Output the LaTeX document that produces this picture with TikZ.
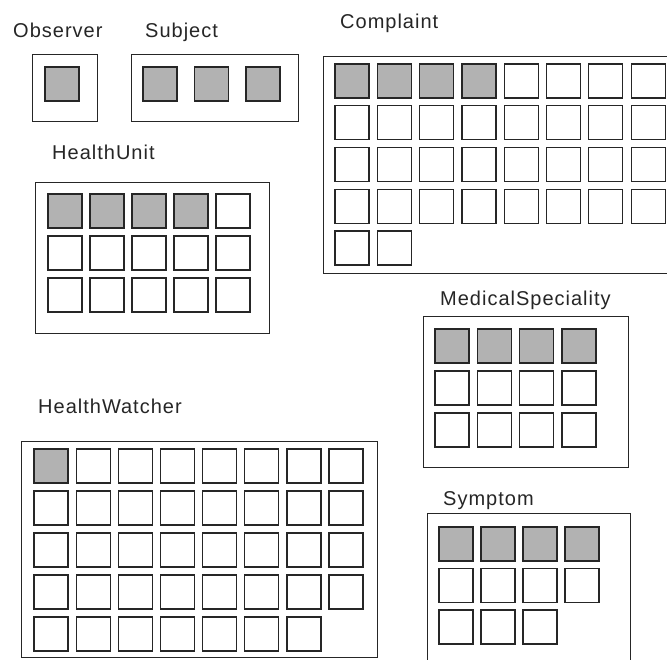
\documentclass[tikz,border=0pt]{standalone}
\usepackage{fontspec}
\setmainfont{Liberation Sans}[LetterSpace=5]
\begin{document}
\begin{tikzpicture}[x=1pt,y=-1pt,
  clsbox/.style={draw=black!85,line width=1.1pt,fill=none,inner sep=0pt,anchor=north west},
  cell/.style={draw=black!85,line width=1.2pt,fill=white,minimum size=34pt,inner sep=0pt},
  hot/.style={cell,fill=black!30},
  lbl/.style={anchor=base west,inner sep=0pt,text=black!85,font=\fontsize{20}{24}\selectfont}]
\newcommand\cellgrid[9]{%
  \foreach \r in {1,...,#7}{%
    \foreach \c in {1,...,#6}{%
      \pgfmathtruncatemacro\idx{(\r-1)*#6+\c}%
      \pgfmathtruncatemacro\ok{or(\r<#7,\c<=#8)}%
      \ifnum\ok=1
        \ifnum\idx>#9
          \node[cell] (#1-\r-\c) at ({#2+(\c-1)*#4+17},{#3+(\r-1)*#5+17}) {};
        \else
          \node[hot] (#1-\r-\c) at ({#2+(\c-1)*#4+17},{#3+(\r-1)*#5+17}) {};
        \fi
      \fi
    }%
  }%
}
\useasboundingbox (0,0) rectangle (667,659);
\clip (0,0) rectangle (667,659);
\fill[white] (0,0) rectangle (667,659);
% container boxes
\node[clsbox,minimum width=65pt,minimum height=67pt] (obs) at (32,54) {};
\node[clsbox,minimum width=167pt,minimum height=67pt] (subj) at (131,54) {};
\node[clsbox,minimum width=360pt,minimum height=217pt] (compl) at (323,56) {};
\node[clsbox,minimum width=234pt,minimum height=151pt] (hu) at (35,182) {};
\node[clsbox,minimum width=205pt,minimum height=151pt] (ms) at (423,316) {};
\node[clsbox,minimum width=356pt,minimum height=216pt] (hw) at (21,441) {};
\node[clsbox,minimum width=203pt,minimum height=170pt] (sym) at (427,513) {};
% labels
\node[lbl] (obsl) at (13,37) {Observer};
\node[lbl] (subjl) at (145,37) {Subject};
\node[lbl] (compll) at (340,28) {Complaint};
\node[lbl] (hul) at (52,159) {HealthUnit};
\node[lbl] (msl) at (440,305) {MedicalSpeciality};
\node[lbl] (hwl) at (38,413) {HealthWatcher};
\node[lbl] (syml) at (443,505) {Symptom};
% cells
\cellgrid{o}{45}{67}{42}{42}{1}{1}{1}{1}
\cellgrid{s}{143}{67}{51.5}{42}{3}{1}{3}{3}
\cellgrid{c}{335}{64}{42.3}{41.75}{8}{5}{2}{4}
\cellgrid{h}{48}{194}{42}{42}{5}{3}{5}{4}
\cellgrid{m}{435}{329}{42.3}{42}{4}{3}{4}{4}
\cellgrid{w}{34}{449}{42.15}{42}{8}{5}{7}{1}
\cellgrid{y}{439}{527}{42}{41.5}{4}{3}{3}{4}
\end{tikzpicture}
\end{document}
